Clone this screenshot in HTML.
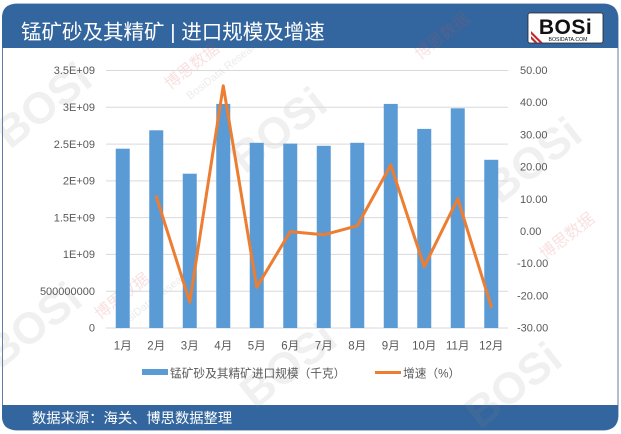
<!DOCTYPE html>
<html>
<head>
<meta charset="utf-8">
<style>
  html,body{margin:0;padding:0;background:#fff;}
  svg{display:block;}
  text{font-family:"Liberation Sans","Noto Sans CJK SC",sans-serif;}
</style>
</head>
<body>
<svg width="621" height="434" viewBox="0 0 621 434" xmlns="http://www.w3.org/2000/svg">
  <!-- frame -->
  <rect x="2.5" y="4" width="615.5" height="426" rx="14" ry="14" fill="#ffffff" stroke="#5f7fa3" stroke-width="1"/>
  <!-- header -->
  <path d="M2,48 L2,18 Q2,4 16,4 L604,4 Q618,4 618,18 L618,48 Z" fill="#33669e"/>
  <!-- footer -->
  <path d="M2,405 L618,405 L618,416 Q618,430 604,430 L16,430 Q2,430 2,416 Z" fill="#33669e"/>

  <!-- watermarks (faint) -->
  <g opacity="0.13" font-weight="bold" fill="#888">
    <text x="0" y="0" font-size="44" transform="translate(10,150) rotate(-38)">BOSi</text>
    <text x="0" y="0" font-size="44" transform="translate(245,175) rotate(-38)">BOSi</text>
    <text x="0" y="0" font-size="44" transform="translate(0,370) rotate(-38)">BOSi</text>
    <text x="0" y="0" font-size="44" transform="translate(255,410) rotate(-38)">BOSi</text>
    <text x="0" y="0" font-size="44" transform="translate(500,205) rotate(-38)">BOSi</text>
    <text x="0" y="0" font-size="44" transform="translate(480,430) rotate(-38)">BOSi</text>
  </g>
  <g opacity="0.18" fill="#d9534f" font-size="16">
    <text transform="translate(100,320) rotate(-38)">博思数据</text>
    <text transform="translate(170,90) rotate(-38)">博思数据</text>
    <text transform="translate(420,60) rotate(-38)">博思数据</text>
    <text transform="translate(545,260) rotate(-38)">博思数据</text>
  </g>
  <g opacity="0.15" fill="#777" font-size="11">
    <text transform="translate(120,330) rotate(-38)">BosiData Research</text>
    <text transform="translate(190,100) rotate(-38)">BosiData Research</text>
  </g>

  <!-- title -->
  <text x="21" y="39" font-size="20.5" fill="#ffffff">锰矿砂及其精矿 | 进口规模及增速</text>

  <!-- logo -->
  <rect x="528" y="13" width="75" height="30" rx="2" fill="#ffffff" stroke="#222" stroke-width="0.8"/>
  <text x="565.5" y="34" font-size="21" font-weight="bold" fill="#111" text-anchor="middle" letter-spacing="0.5">BOSi</text>
  <text x="568" y="41" font-size="5.2" fill="#111" text-anchor="middle">BOSIDATA.COM</text>
  <path d="M531,36 L538,43 L535,43 L531,39 Z M531,31 L543,43 L540,43 L531,34 Z" fill="#c0272d"/>

  <!-- gridlines -->
  <g stroke="#d9d9d9" stroke-width="1">
    <line x1="106" y1="70.5" x2="508" y2="70.5"/>
    <line x1="106" y1="107.3" x2="508" y2="107.3"/>
    <line x1="106" y1="144.1" x2="508" y2="144.1"/>
    <line x1="106" y1="180.9" x2="508" y2="180.9"/>
    <line x1="106" y1="217.6" x2="508" y2="217.6"/>
    <line x1="106" y1="254.4" x2="508" y2="254.4"/>
    <line x1="106" y1="291.2" x2="508" y2="291.2"/>
    <line x1="106" y1="328" x2="508" y2="328"/>
  </g>

  <!-- left axis labels -->
  <g font-size="11" fill="#595959" text-anchor="end">
    <text x="95" y="74">3.5E+09</text>
    <text x="95" y="111">3E+09</text>
    <text x="95" y="148">2.5E+09</text>
    <text x="95" y="184.5">2E+09</text>
    <text x="95" y="221.5">1.5E+09</text>
    <text x="95" y="258">1E+09</text>
    <text x="95" y="295">500000000</text>
    <text x="95" y="331.5">0</text>
  </g>

  <!-- right axis labels -->
  <g font-size="11" fill="#595959">
    <text x="520" y="74">50.00</text>
    <text x="520" y="106">40.00</text>
    <text x="520" y="138.5">30.00</text>
    <text x="520" y="170.5">20.00</text>
    <text x="520" y="203">10.00</text>
    <text x="520" y="235">0.00</text>
    <text x="517" y="267">-10.00</text>
    <text x="517" y="299.5">-20.00</text>
    <text x="517" y="331.5">-30.00</text>
  </g>

  <!-- bars -->
  <g fill="#5b9bd5">
    <rect x="115.75" y="148.7" width="14" height="179.3"/>
    <rect x="149.25" y="130.3" width="14" height="197.7"/>
    <rect x="182.75" y="173.7" width="14" height="154.3"/>
    <rect x="216.25" y="103.9" width="14" height="224.1"/>
    <rect x="249.75" y="142.8" width="14" height="185.2"/>
    <rect x="283.25" y="143.6" width="14" height="184.4"/>
    <rect x="316.75" y="145.8" width="14" height="182.2"/>
    <rect x="350.25" y="142.8" width="14" height="185.2"/>
    <rect x="383.75" y="103.9" width="14" height="224.1"/>
    <rect x="417.25" y="128.9" width="14" height="199.1"/>
    <rect x="450.75" y="108.3" width="14" height="219.7"/>
    <rect x="484.25" y="159.8" width="14" height="168.2"/>
  </g>

  <!-- line -->
  <polyline fill="none" stroke="#ed7d31" stroke-width="3" stroke-linejoin="round" stroke-linecap="round"
    points="156.25,196.5 189.75,302.1 223.25,85.8 256.75,287.3 290.25,231.6 323.75,234.8 357.25,225.8 390.75,165 424.25,266.7 457.75,198.75 491.25,306.6"/>

  <!-- x labels -->
  <g font-size="11.5" fill="#595959" text-anchor="middle">
    <text x="122.75" y="349.5">1月</text>
    <text x="156.25" y="349.5">2月</text>
    <text x="189.75" y="349.5">3月</text>
    <text x="223.25" y="349.5">4月</text>
    <text x="256.75" y="349.5">5月</text>
    <text x="290.25" y="349.5">6月</text>
    <text x="323.75" y="349.5">7月</text>
    <text x="357.25" y="349.5">8月</text>
    <text x="390.75" y="349.5">9月</text>
    <text x="424.25" y="349.5">10月</text>
    <text x="457.75" y="349.5">11月</text>
    <text x="491.25" y="349.5">12月</text>
  </g>

  <!-- legend -->
  <rect x="142" y="369" width="26" height="6" fill="#5b9bd5"/>
  <text x="170" y="377.5" font-size="11.7" fill="#595959">锰矿砂及其精矿进口规模（千克）</text>
  <line x1="375" y1="372.5" x2="401" y2="372.5" stroke="#ed7d31" stroke-width="3"/>
  <text x="403" y="377.5" font-size="11.7" fill="#595959">增速（%）</text>

  <!-- footer text -->
  <text x="32" y="423" font-size="14.3" fill="#ffffff">数据来源：海关、博思数据整理</text>
</svg>
</body>
</html>
